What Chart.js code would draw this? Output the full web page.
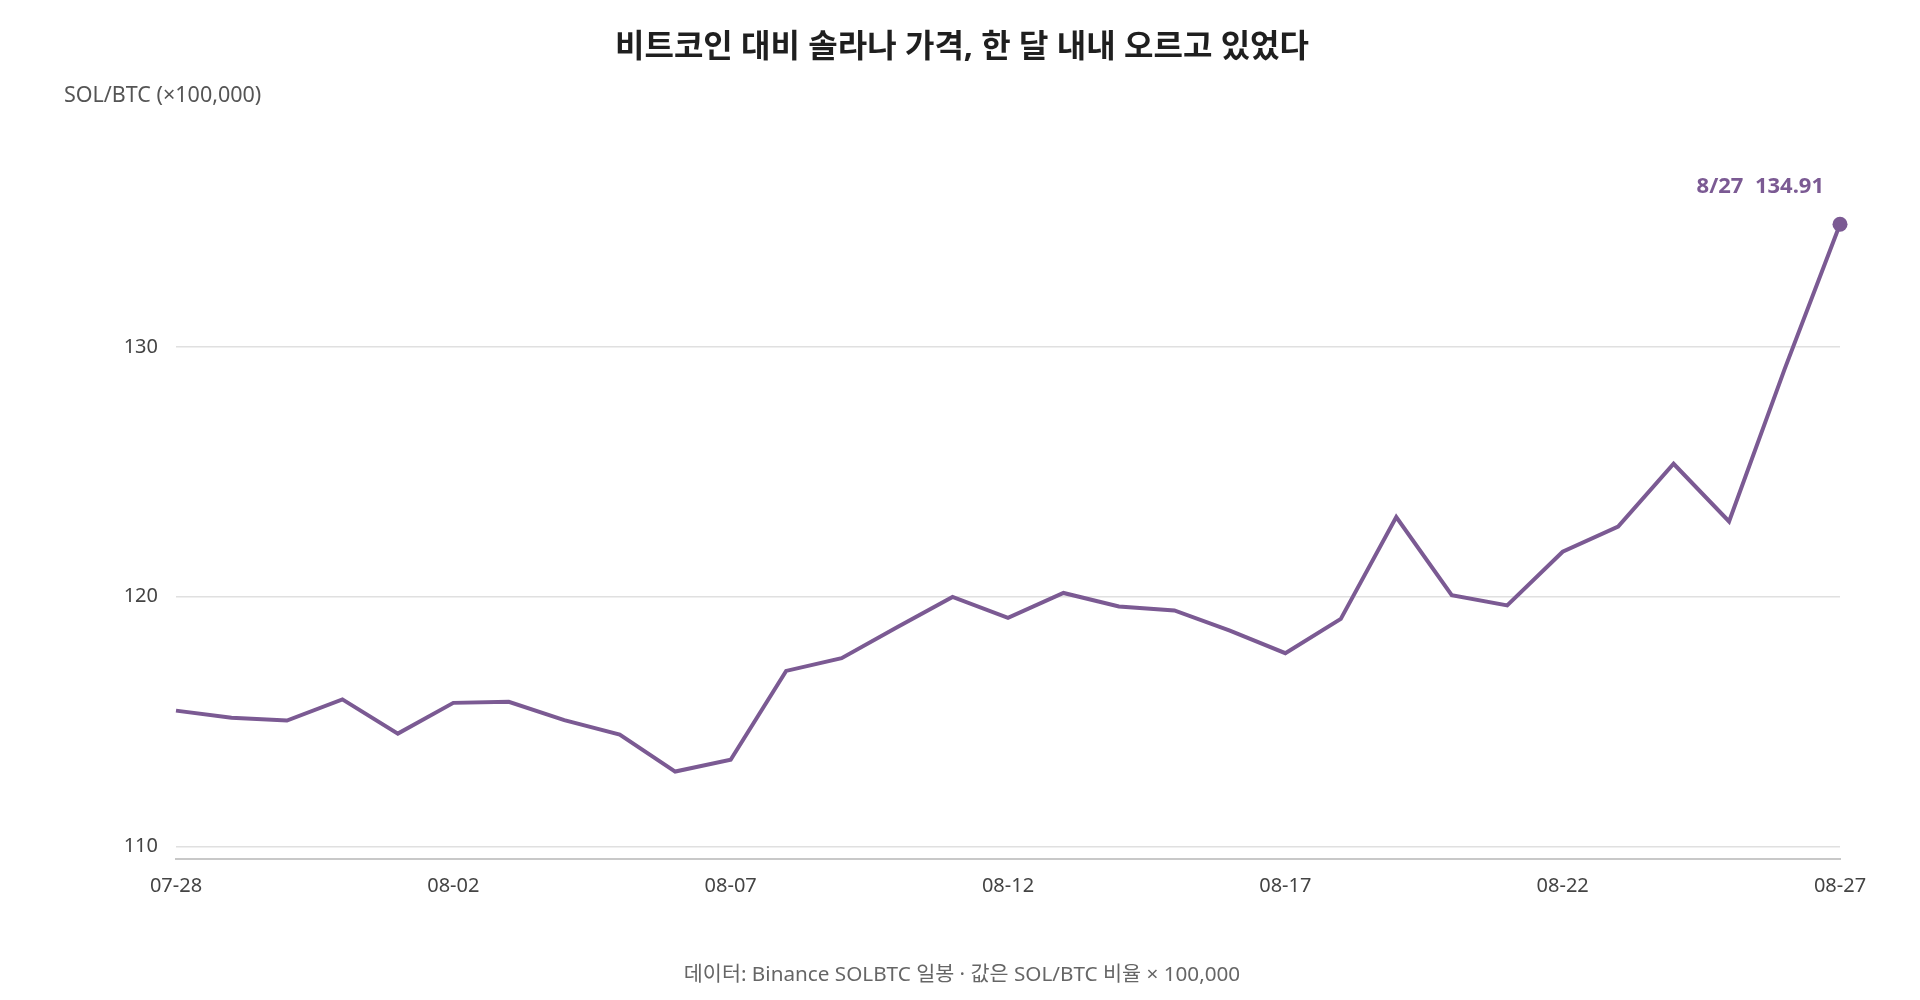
<!DOCTYPE html>
<html lang="ko">
<head>
<meta charset="utf-8">
<title>SOL/BTC</title>
<script src="https://cdn.jsdelivr.net/npm/chart.js@4.4.1/dist/chart.umd.min.js"></script>
<style>
  html, body { margin: 0; padding: 0; background: #ffffff; }
  #wrap { position: relative; width: 1920px; height: 1000px; }
</style>
</head>
<body>
<div id="wrap"><canvas id="myChart"></canvas></div>
<script>
// Data
let dates = [
  "07-28", "07-29", "07-30", "07-31", "08-01", "08-02", "08-03", "08-04",
  "08-05", "08-06", "08-07", "08-08", "08-09", "08-10", "08-11", "08-12",
  "08-13", "08-14", "08-15", "08-16", "08-17", "08-18", "08-19", "08-20",
  "08-21", "08-22", "08-23", "08-24", "08-25", "08-26", "08-27"
];
let solBtc = [
  115.44, 115.15, 115.04, 115.89, 114.52, 115.75, 115.79, 115.06,
  114.48, 113.00, 113.47, 117.03, 117.54, 118.78, 119.99, 119.15,
  120.15, 119.61, 119.45, 118.64, 117.74, 119.11, 123.19, 120.06,
  119.65, 121.80, 122.81, 125.32, 123.01, 129.10, 134.91
];
let yTicks = [110, 120, 130];

let titleText = "비트코인 대비 솔라나 가격, 한 달 내내 오르고 있었다";
let yTitleText = "SOL/BTC (×100,000)";
let footText = "데이터: Binance SOLBTC 일봉 · 값은 SOL/BTC 비율 × 100,000";

let purple = "#7b5a93";
// latin glyphs from Noto Sans, hangul falls back to the CJK font
let fontFamily = "'Noto Sans', 'Noto Sans CJK KR', sans-serif";
let lastIndex = solBtc.length - 1;

// Draws the title, y-axis caption, footer and the end-point label
let textPlugin = {
  id: "textPlugin",
  afterDraw(chart) {
    let ctx = chart.ctx;
    ctx.save();

    ctx.fillStyle = "#1f1f1f";
    ctx.font = "bold 32px " + fontFamily;
    ctx.textAlign = "center";
    ctx.textBaseline = "middle";
    ctx.fillText(titleText, 962, 48);

    ctx.fillStyle = "#555555";
    ctx.font = "21.5px " + fontFamily;
    ctx.textAlign = "left";
    ctx.fillText(yTitleText, 64, 96);

    ctx.fillStyle = "#666666";
    ctx.font = "20.7px " + fontFamily;
    ctx.textAlign = "center";
    ctx.fillText(footText, 962, 975);

    // label over the last point, e.g. "8/27  134.91"
    let pt = chart.getDatasetMeta(0).data[lastIndex];
    let parts = dates[lastIndex].split("-");
    let lbl = parseInt(parts[0], 10) + "/" + parts[1] + "  " + solBtc[lastIndex].toFixed(2);
    ctx.fillStyle = purple;
    ctx.font = "bold 22px " + fontFamily;
    ctx.textAlign = "right";
    ctx.fillText(lbl, pt.x - 16, pt.y - 37);

    ctx.restore();
  }
};

const data = {
  labels: dates,
  datasets: [
    {
      label: "SOL/BTC",
      data: solBtc,
      borderColor: purple,
      backgroundColor: purple,
      borderWidth: 4,
      tension: 0,
      pointRadius: (c) => (c.dataIndex === lastIndex ? 7.5 : 0),
      pointHoverRadius: 0,
      pointBorderWidth: 0,
      clip: false,
    },
  ],
};

const config = {
  type: "line",
  data: data,
  plugins: [textPlugin],
  options: {
    responsive: true,
    maintainAspectRatio: false,
    animation: false,
    layout: { padding: { left: 0, right: 80, top: 197, bottom: 0 } },
    plugins: {
      legend: { display: false },
      tooltip: { enabled: false },
      title: { display: false },
    },
    scales: {
      x: {
        offset: false,
        grid: { display: false, drawTicks: false },
        border: { display: true, color: "#c8c8c8", width: 2 },
        ticks: {
          autoSkip: false,
          maxRotation: 0,
          padding: 15,
          color: "#444444",
          font: { family: fontFamily, size: 20 },
          callback: function (val, i) {
            return i % 5 === 0 ? dates[i] : "";
          },
        },
        afterFit: function (scale) {
          scale.height = 141;
        },
      },
      y: {
        min: 109.5,
        max: 136,
        grid: { color: "#e0e0e0", lineWidth: 1.5, drawTicks: false },
        border: { display: false },
        ticks: {
          padding: 18,
          color: "#444444",
          font: { family: fontFamily, size: 20 },
        },
        afterBuildTicks: function (scale) {
          scale.ticks = yTicks.map((v) => ({ value: v }));
        },
        afterFit: function (scale) {
          scale.width = 176;
        },
      },
    },
  },
};

const canvasChart = document.getElementById("myChart").getContext("2d");
const myChart = new Chart(canvasChart, config);
</script>
</body>
</html>
